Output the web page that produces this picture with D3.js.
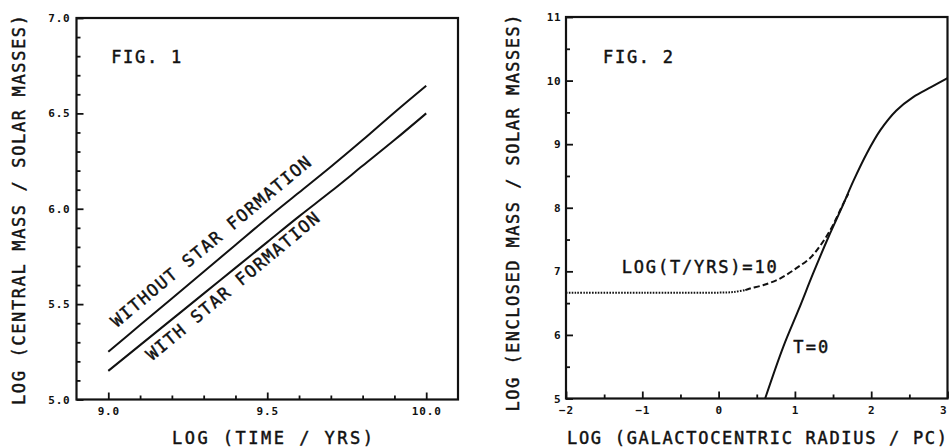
<!DOCTYPE html>
<html lang="en">
<head>
<meta charset="utf-8">
<title>Fig. 1 / Fig. 2</title>
<script src="https://cdn.jsdelivr.net/npm/d3@7"></script>
<style>
  body { margin: 0; background: #fff; }
  svg text { font-family: "DejaVu Sans Mono", "Liberation Mono", monospace; fill: #111; }
  .tick text { font-size: 11px; font-weight: bold; letter-spacing: 0.8px; }
  .domain { display: none; }
  .tick line { stroke: #111; stroke-width: 1.8; }
  .frame { fill: none; stroke: #111; stroke-width: 2.2; }
  .curve { fill: none; stroke: #111; stroke-width: 2; }
  .title { font-size: 17px; stroke: #111; stroke-width: 0.45; }
  .note { font-size: 17px; stroke: #111; stroke-width: 0.45; }
</style>
</head>
<body>
<svg id="chart" width="949" height="447"></svg>
<script>
// ---- fig 1 : central mass vs time ----
var logTime   = [9.0, 9.1, 9.2, 9.3, 9.4, 9.5, 9.6, 9.7, 9.8, 9.9, 10.0];
var massNoSF  = [5.25, 5.39, 5.53, 5.67, 5.81, 5.95, 6.085, 6.22, 6.36, 6.505, 6.645];
var massSF    = [5.15, 5.285, 5.42, 5.555, 5.69, 5.825, 5.96, 6.09, 6.225, 6.36, 6.50];
var f1xMajor  = [9.0, 9.5, 10.0];
var f1xMinor  = [9.1, 9.2, 9.3, 9.4, 9.6, 9.7, 9.8, 9.9];
var f1yMajor  = [5.0, 5.5, 6.0, 6.5, 7.0];
var f1yMinor  = [5.1, 5.2, 5.3, 5.4, 5.6, 5.7, 5.8, 5.9, 6.1, 6.2, 6.3, 6.4, 6.6, 6.7, 6.8, 6.9];

// ---- fig 2 : enclosed mass vs radius ----
var radiusT0  = [0.61, 0.85, 1.05, 1.24, 1.44, 1.61, 1.77, 1.94, 2.12, 2.33, 2.55, 2.79, 3.0];
var massT0    = [5.0, 5.82, 6.40, 6.97, 7.54, 7.99, 8.43, 8.85, 9.22, 9.53, 9.74, 9.90, 10.04];
var radiusT10 = [-2.0, -1.0, 0.0, 0.2, 0.35, 0.41, 0.59, 0.81, 1.02, 1.20, 1.33, 1.46, 1.55, 1.62, 1.70];
var massT10   = [6.663, 6.663, 6.665, 6.675, 6.705, 6.73, 6.785, 6.89, 7.05, 7.21, 7.40, 7.64, 7.85, 8.03, 8.22];
var dottedUpTo = 0.35;
var f2xMajor  = [-2, -1, 0, 1, 2, 3];
var f2xMinor  = [-1.5, -0.5, 0.5, 1.5, 2.5];
var f2yMajor  = [5, 6, 7, 8, 9, 10, 11];
var f2yMinor  = [5.5, 6.5, 7.5, 8.5, 9.5, 10.5];

var svg = d3.select("#chart");

function panel(xs, ys, xMaj, xMin, yMaj, yMin, xFmt, yFmt, xPad, yPad) {
  var g = svg.append("g");
  var x0 = xs.range()[0], x1 = xs.range()[1], y0 = ys.range()[0], y1 = ys.range()[1];

  g.append("g").attr("transform", "translate(0," + y0 + ")")
    .call(d3.axisBottom(xs).tickValues(xMin).tickSizeInner(-4).tickSizeOuter(0).tickFormat(""));
  g.append("g").attr("class", "xmajor").attr("transform", "translate(0," + y0 + ")")
    .call(d3.axisBottom(xs).tickValues(xMaj).tickSizeInner(-7).tickSizeOuter(0).tickPadding(xPad).tickFormat(xFmt));
  g.append("g").attr("transform", "translate(" + x0 + ",0)")
    .call(d3.axisLeft(ys).tickValues(yMin).tickSizeInner(-4).tickSizeOuter(0).tickFormat(""));
  g.append("g").attr("transform", "translate(" + x0 + ",0)")
    .call(d3.axisLeft(ys).tickValues(yMaj).tickSizeInner(-7).tickSizeOuter(0).tickPadding(yPad).tickFormat(yFmt));

  g.append("rect").attr("class", "frame")
    .attr("x", x0).attr("y", y1).attr("width", x1 - x0).attr("height", y0 - y1);
  return g;
}

// fig 1
var x1 = d3.scaleLinear().domain([8.9, 10.1]).range([76.5, 458]);
var y1 = d3.scaleLinear().domain([5, 7]).range([399.5, 18]);
var p1 = panel(x1, y1, f1xMajor, f1xMinor, f1yMajor, f1yMinor,
               d3.format(".1f"), d3.format(".1f"), 7.5, 6);

var line1 = d3.line().curve(d3.curveCatmullRom)
  .x(function(d) { return x1(d[0]); }).y(function(d) { return y1(d[1]); });
p1.append("path").attr("class", "curve").attr("d", line1(d3.zip(logTime, massNoSF)));
p1.append("path").attr("class", "curve").attr("d", line1(d3.zip(logTime, massSF)));

var ang = -Math.atan2(y1(massNoSF[0]) - y1(massNoSF[10]), x1(logTime[10]) - x1(logTime[0])) * 180 / Math.PI;
p1.append("text").attr("class", "note")
  .attr("transform", "translate(" + x1(9.027) + "," + y1(5.375) + ") rotate(" + ang + ")")
  .attr("textLength", 255).attr("lengthAdjust", "spacing")
  .text("WITHOUT STAR FORMATION");
p1.append("text").attr("class", "note")
  .attr("transform", "translate(" + x1(9.138) + "," + y1(5.2) + ") rotate(" + ang + ")")
  .attr("textLength", 220).attr("lengthAdjust", "spacing")
  .text("WITH STAR FORMATION");
p1.append("text").attr("class", "note")
  .attr("x", x1(9.009)).attr("y", y1(6.764))
  .attr("textLength", 70).attr("lengthAdjust", "spacing")
  .text("FIG. 1");

svg.append("text").attr("class", "title")
  .attr("x", 272.5).attr("y", 444).attr("text-anchor", "middle")
  .attr("textLength", 201).attr("lengthAdjust", "spacing")
  .text("LOG (TIME / YRS)");
svg.append("text").attr("class", "title")
  .attr("transform", "translate(25,210) rotate(-90)").attr("text-anchor", "middle")
  .attr("textLength", 390).attr("lengthAdjust", "spacing")
  .text("LOG (CENTRAL MASS / SOLAR MASSES)");

// fig 2
var x2 = d3.scaleLinear().domain([-2, 3]).range([566, 947.5]);
var y2 = d3.scaleLinear().domain([5, 11]).range([398.5, 17]);
var p2 = panel(x2, y2, f2xMajor, f2xMinor, f2yMajor, f2yMinor,
               d3.format("d"), d3.format("d"), 8, 4.5);
// last label sits against the picture edge, keep it inside
p2.selectAll(".xmajor .tick text").filter(function(d) { return d === 3; })
  .attr("text-anchor", "end").attr("dx", -0.5).attr("letter-spacing", 0);

var line2 = d3.line().curve(d3.curveCatmullRom)
  .x(function(d) { return x2(d[0]); }).y(function(d) { return y2(d[1]); });

var t10 = d3.zip(radiusT10, massT10);
p2.append("path").attr("class", "curve")
  .attr("stroke-width", 1.9).attr("stroke-dasharray", "1.6,1.3")
  .attr("d", line2(t10.filter(function(d) { return d[0] <= dottedUpTo; })));
p2.append("path").attr("class", "curve")
  .attr("stroke-dasharray", "6,3")
  .attr("d", line2(t10.filter(function(d) { return d[0] >= dottedUpTo; })));
p2.append("path").attr("class", "curve").attr("d", line2(d3.zip(radiusT0, massT0)));

p2.append("text").attr("class", "note")
  .attr("x", x2(-1.27)).attr("y", y2(6.97))
  .attr("textLength", 155).attr("lengthAdjust", "spacing")
  .text("LOG(T/YRS)=10");
p2.append("text").attr("class", "note")
  .attr("x", x2(0.98)).attr("y", y2(5.715))
  .attr("textLength", 35).attr("lengthAdjust", "spacing")
  .text("T=0");
p2.append("text").attr("class", "note")
  .attr("x", x2(-1.515)).attr("y", y2(10.275))
  .attr("textLength", 70).attr("lengthAdjust", "spacing")
  .text("FIG. 2");

svg.append("text").attr("class", "title")
  .attr("x", 757).attr("y", 444).attr("text-anchor", "middle")
  .attr("textLength", 380).attr("lengthAdjust", "spacing")
  .text("LOG (GALACTOCENTRIC RADIUS / PC)");
svg.append("text").attr("class", "title")
  .attr("transform", "translate(519,213) rotate(-90)").attr("text-anchor", "middle")
  .attr("textLength", 397).attr("lengthAdjust", "spacing")
  .text("LOG (ENCLOSED MASS / SOLAR MASSES)");
</script>
</body>
</html>
